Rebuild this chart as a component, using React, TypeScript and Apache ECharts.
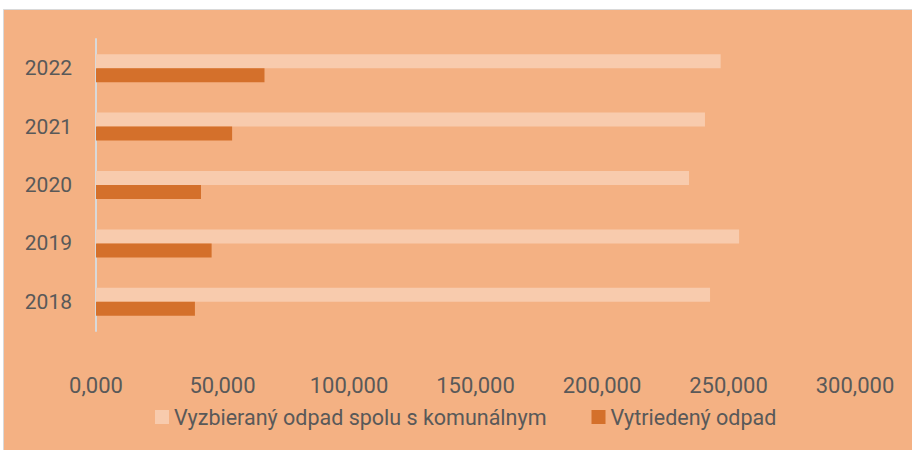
import React, { useEffect, useRef } from "react";
import * as echarts from "echarts";

const years = ["2018", "2019", "2020", "2021", "2022"];
const collectedWithMunicipal = [242700, 254200, 234400, 240700, 246900];
const sortedWaste = [39100, 45700, 41500, 53800, 66600];
const seriesNames = ["Vyzbieraný odpad spolu s komunálnym", "Vytriedený odpad"];
const xMax = 300000;
const xStep = 50000;

export default function App() {
  const ref = useRef<HTMLDivElement>(null);
  useEffect(() => {
    if (!ref.current) return;
    const chart = echarts.init(ref.current, null, { renderer: "svg" });
    const font = "Roboto, 'Open Sans', sans-serif";
    chart.setOption({
      animation: false,
      backgroundColor: "#ffffff",
      graphic: [
        {
          type: "rect",
          z: -10,
          silent: true,
          shape: { x: 3.5, y: 9.5, width: 912, height: 445 },
          style: { fill: "#F4B183", stroke: "#D9D9D9", lineWidth: 1 },
        },
      ],
      grid: { left: 96, right: 57, top: 39, bottom: 119, containLabel: false },
      legend: {
        data: seriesNames,
        left: 150,
        top: 401,
        itemWidth: 14,
        itemHeight: 14,
        itemGap: 45,
        icon: "rect",
        textStyle: { color: "#595959", fontSize: 21.5, fontFamily: font, padding: [0, 0, 0, 0] },
      },
      xAxis: {
        type: "value",
        min: 0,
        max: xMax,
        interval: xStep,
        axisLine: { show: false },
        axisTick: { show: false },
        splitLine: { show: false },
        axisLabel: {
          color: "#595959",
          fontSize: 22,
          fontFamily: font,
          margin: 43,
          formatter: (v: number) => (v === 0 ? "0,000" : `${Math.round(v / 1000)},000`),
        },
      },
      yAxis: {
        type: "category",
        data: years,
        axisLine: { show: true, lineStyle: { color: "#D9D9D9", width: 2 } },
        axisTick: { show: false },
        axisLabel: { color: "#595959", fontSize: 21, fontFamily: font, margin: 24 },
      },
      series: [
        {
          name: seriesNames[0],
          type: "bar",
          data: collectedWithMunicipal,
          barWidth: 14,
          barGap: "0%",
          itemStyle: { color: "#F8CBAD" },
        },
        {
          name: seriesNames[1],
          type: "bar",
          data: sortedWaste,
          barWidth: 14,
          barGap: "0%",
          itemStyle: { color: "#D4702B" },
        },
      ],
    });
    return () => chart.dispose();
  }, []);
  return (
    <div style={{ position: "fixed", left: 0, top: 0, width: 912, height: 450 }}>
      <div ref={ref} style={{ width: 912, height: 450 }} />
    </div>
  );
}
